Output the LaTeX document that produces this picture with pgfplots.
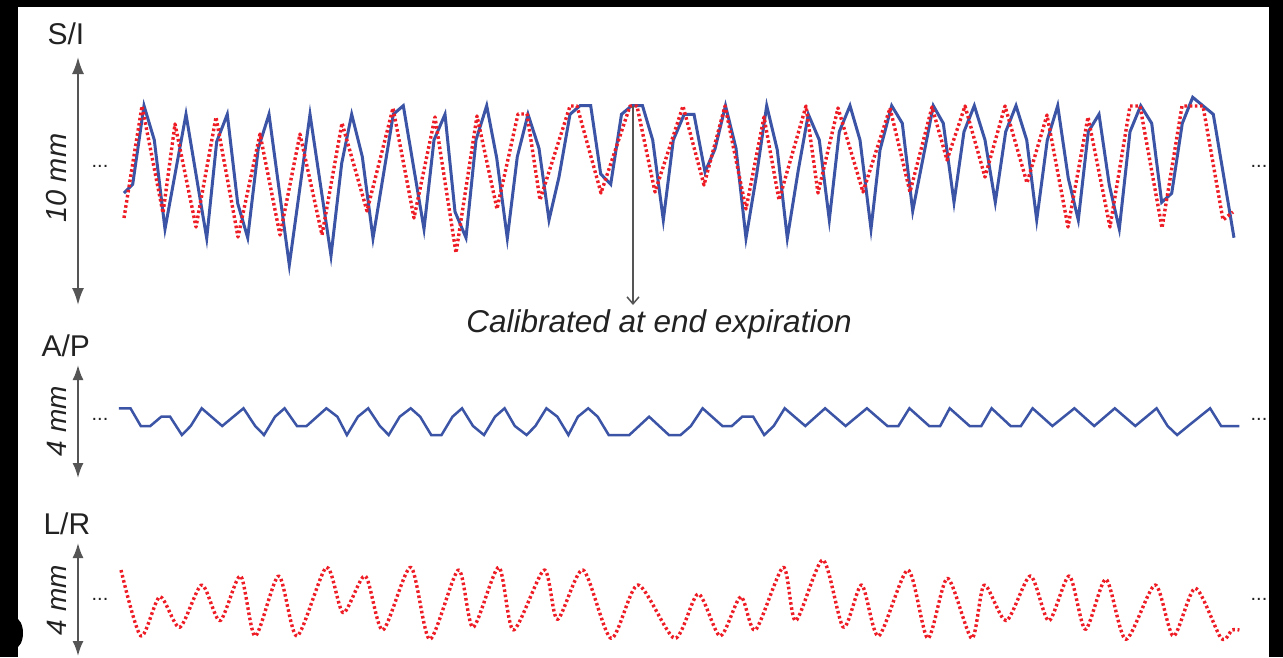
\documentclass[border=0pt]{standalone}
\usepackage{pgfplots}
\pgfplotsset{compat=1.18}
\usepackage{fontspec}
\setmainfont{Liberation Sans}
\usetikzlibrary{arrows.meta}
\definecolor{bl}{HTML}{3B54A5}
\definecolor{rd}{HTML}{EE1C25}
\definecolor{gr}{HTML}{555555}
\definecolor{tx}{HTML}{222222}
\begin{document}
\begin{tikzpicture}
\begin{axis}[x=1pt,y=1pt,y dir=reverse,xmin=0,xmax=1283,ymin=0,ymax=657,
  hide axis,scale only axis,clip=false]
\fill[black] (axis cs:0,0) rectangle (axis cs:1283,657);
\fill[white] (axis cs:18,7) rectangle (axis cs:1269,657);
\fill[black] (axis cs:15,633) ellipse [x radius=8pt, y radius=15pt];
\fill[black] (axis cs:0,600) rectangle (axis cs:15,657);
% S/I
\addplot[bl,line width=3pt,line join=miter] coordinates {
(124,193)(132.7,184.3)(144,105.7)(154.3,140)(165,229)(186,114.3)(206.7,238.3)(216.7,141.7)(227.3,114.3)(237.7,203.3)(247.7,237.7)(258.3,148.3)(269,114.3)(289.3,265)(310,114.3)(331,255.7)(341.7,163.3)(351.7,114.3)(362.3,156.7)(373,238.3)(393.3,114.3)(403.3,105.7)(424,229)(434,140)(445,114.3)(455,211.7)(466,237.7)(476,140)(486.7,105.7)(496.7,158)(507.3,238.3)(517.3,156.7)(528,114.3)(539,148.3)(549,220)(559,177)(570,114.3)(580,105.7)(590.7,105.7)(600.7,174)(610.7,184.3)(621.5,114.3)(631.7,105.7)(642.5,105.7)(652.7,140)(663.3,220)(673.3,140)(684.2,114.3)(694,114.3)(705,172)(715,149)(725.5,105.7)(736,148.3)(746,238.3)(756.7,174)(766.7,105.7)(777.3,150)(787.3,238.3)(798.3,170)(808.3,114.3)(819.3,140)(829.3,220)(839.3,131.7)(850,105.7)(860,140)(871,229)(880,150)(891.7,105.7)(902.3,123.3)(912.7,211)(933.3,105.7)(943.3,123.3)(954,202.3)(964,131.7)(974.3,105.7)(985,140)(995.3,202.3)(1005.7,131.7)(1016,105.7)(1026.7,140)(1036.7,220)(1047.3,140)(1057.7,105.7)(1068.3,178.3)(1078.3,220)(1088.3,131.7)(1099,114.3)(1109.3,185)(1119.3,229)(1130,131.7)(1140.7,105.7)(1151.7,123.3)(1161.7,202.3)(1171.7,193.3)(1182.3,123.3)(1192.7,97.3)(1213.3,114.3)(1234,237.7)
};
\addplot[rd,line width=3.4pt,line join=round,dash pattern=on 2.6pt off 2.6pt] coordinates {
(124,218)(142,106)(163,213)(175,124)(196,227)(216,117)(238,237)(260,134)(280,235)(300,134)(322,235)(342,123)(367,211)(393,108)(414,218)(435,117)(456,253)(477,116)(497,209)(518,114)(527,114)(540,200)(570,106)(577,106)(601,193)(630,106)(637,106)(655,192)(683,106)(704,185)(725,106)(746,209)(764,117)(779,200)(806,106)(818,193)(838,108)(863,192)(890,108)(910,192)(932,107)(947,160)(965,106)(985,177)(1005,106)(1027,183)(1047,115)(1068,227)(1088,117)(1110,227)(1130,106)(1140,106)(1162,228)(1182,106)(1203,106)(1223,220)(1233,212)
};
% A/P
\addplot[bl,line width=2.5pt] coordinates {
(118.8,408.3)(130.5,408.3)(140.8,426)(150.3,426)(161.3,416.7)(170.1,416.7)(181.9,435)(190.7,426)(201.7,408.3)(222.2,426)(243.5,408.3)(255.2,426)(264,435)(275,416.7)(284.6,408.3)(297,426)(306.6,426)(326.4,408.3)(337.4,416.7)(346.9,435)(357.9,416.7)(368.2,408.3)(379.9,426)(388.7,435)(399.7,416.7)(410.7,408.3)(420.2,416.7)(431.2,435)(441.5,435)(452.5,416.7)(462,408.3)(473,426)(484,435)(495,416.7)(504.6,408.3)(514.8,426)(526.6,435)(535.4,426)(546.4,408.3)(557.4,416.7)(568.4,435)(577.9,416.7)(588.2,408.3)(597.7,416.7)(608.7,435)(629.3,435)(649.1,416.7)(668.9,435)(680.6,435)(690.9,426)(702.6,408.3)(722.4,426)(731.9,426)(742.2,416.7)(753.2,416.7)(764.2,435)(773.7,426)(784.7,408.3)(805.3,426)(825.1,408.3)(845.6,426)(866.9,408.3)(887.4,426)(898.4,426)(909.4,408.3)(929.2,426)(940.2,426)(949.7,408.3)(969.6,426)(981.3,426)(991.6,408.3)(1010.6,426)(1020.9,426)(1032.6,408.3)(1052.4,426)(1074.4,408.3)(1094.2,426)(1114.8,408.3)(1135.3,426)(1156.6,408.3)(1167.6,426)(1177.1,435)(1188.1,426)(1210.1,408.3)(1221.1,426)(1239.4,426)
};
% L/R
\addplot[rd,line width=3.4pt,line join=round,dash pattern=on 2.6pt off 2.6pt,smooth,tension=0.45] coordinates {
(121,570)(140.8,636)(159.9,596.7)(179.7,627.3)(201.7,585)(220,620.7)(240.5,576)(255.2,636)(278.7,576)(297,636)(326.4,567.3)(343.2,612.7)(365.2,576)(382.8,630)(410.7,567.3)(429.8,639.3)(458.4,570)(473,627.3)(498.7,567.3)(513.4,630)(544.2,570)(557.4,619.3)(583,570)(611,638.3)(638,585)(674.7,638.3)(698.2,594)(720.2,636)(740.7,596.7)(755.4,630)(783.3,567.3)(795.7,620.7)(822.9,560)(843.4,627.3)(861.7,585)(878.6,636)(908,570)(927.8,638.3)(947.5,578.3)(971.8,638.3)(984.2,585)(1006.2,620.7)(1030.4,576)(1048.8,620.7)(1069.3,576)(1085.4,629.3)(1106,579.3)(1125.8,639.3)(1155.1,585)(1173.4,636)(1195.4,588.3)(1221.1,638.3)(1232.1,630)(1239.4,630)
};
% scale bars
\draw[gr,line width=2pt,{Latex[length=17pt,width=12pt]}-{Latex[length=17pt,width=12pt]}] (axis cs:78,57) -- (axis cs:78,305);
\draw[gr,line width=2pt,{Latex[length=15pt,width=11pt]}-{Latex[length=15pt,width=11pt]}] (axis cs:78,365) -- (axis cs:78,478);
\draw[gr,line width=2pt,{Latex[length=15pt,width=11pt]}-{Latex[length=15pt,width=11pt]}] (axis cs:78,543) -- (axis cs:78,656);
% calibration arrow
\draw[gr,line width=1.5pt,-{Straight Barb[length=7pt,width=12pt]}] (axis cs:633,106) -- (axis cs:633,305);
% labels
\node[tx,anchor=base west,font=\fontsize{30}{36}\selectfont] at (axis cs:44,44) {S/I};
\node[tx,anchor=base west,font=\fontsize{30}{36}\selectfont] at (axis cs:38,356) {A/P};
\node[tx,anchor=base west,font=\fontsize{30}{36}\selectfont] at (axis cs:40,534) {L/R};
\node[tx,rotate=90,font=\fontsize{29}{34}\selectfont\itshape] at (axis cs:57,178) {10 mm};
\node[tx,rotate=90,font=\fontsize{28}{34}\selectfont\itshape] at (axis cs:57,421) {4 mm};
\node[tx,rotate=90,font=\fontsize{28}{34}\selectfont\itshape] at (axis cs:57,600) {4 mm};
\node[tx,anchor=base,font=\fontsize{31.5}{36}\selectfont\itshape] at (axis cs:659,332) {Calibrated at end expiration};
\node[tx,font=\fontsize{20}{24}\selectfont] at (axis cs:100,166) {...};
\node[tx,font=\fontsize{20}{24}\selectfont] at (axis cs:1259,166) {...};
\node[tx,font=\fontsize{20}{24}\selectfont] at (axis cs:100,419) {...};
\node[tx,font=\fontsize{20}{24}\selectfont] at (axis cs:1259,419) {...};
\node[tx,font=\fontsize{20}{24}\selectfont] at (axis cs:100,599) {...};
\node[tx,font=\fontsize{20}{24}\selectfont] at (axis cs:1259,599) {...};
\end{axis}
\end{tikzpicture}
\end{document}
